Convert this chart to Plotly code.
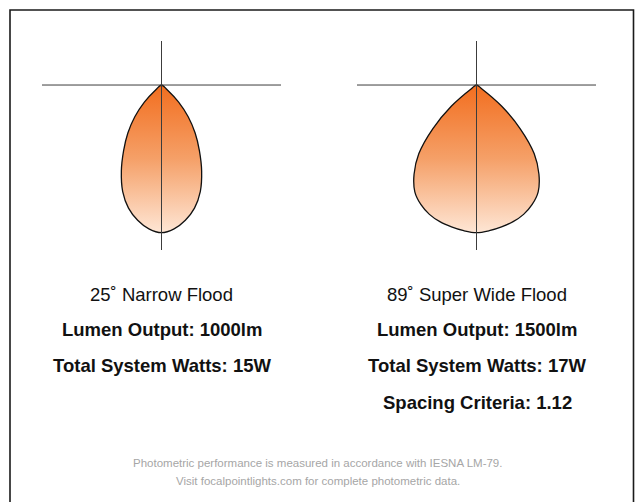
import numpy as np
import plotly.graph_objects as go

# ---- data (relative intensity, % of peak, vs. angle from nadir in degrees) ----
angles_narrow = [0, 5, 10, 15, 20, 25, 30, 35, 40, 45, 50, 55]
intensity_narrow = [100, 97.8, 93.0, 86.3, 76.8, 64.3, 51.3, 39.7, 28.1, 16.4, 5.0, 0]

angles_wide = [0, 5, 10, 15, 20, 25, 30, 35, 40, 45, 50, 55, 60]
intensity_wide = [100, 99.0, 97.5, 95.8, 93.2, 89.2, 83.5, 73.7, 60.8, 41.9, 22.1, 4.0, 0]

titles = ["25˚ Narrow Flood", "89˚ Super Wide Flood"]
lumen_lines = ["Lumen Output: 1000lm", "Lumen Output: 1500lm"]
watt_lines = ["Total System Watts: 15W", "Total System Watts: 17W"]
spacing_line = "Spacing Criteria: 1.12"
footer_lines = ["Photometric performance is measured in accordance with IESNA LM-79.",
                "Visit focalpointlights.com for complete photometric data."]

W, H = 637, 502


def outline(angles, values):
    a = np.array(angles, dtype=float)
    v = np.array(values, dtype=float)
    # mirror: from +max angle down to -max angle
    ang = np.concatenate([a[::-1], -a[1:]])
    r = np.concatenate([v[::-1], v[1:]])
    t = np.radians(ang)
    return r * np.sin(t), -r * np.cos(t)


fig = go.Figure()

fill_scale = [[0, "#FEE6D5"], [0.5, "#F5A068"], [1, "#F26E1F"]]

for i, (ang, val) in enumerate([(angles_narrow, intensity_narrow), (angles_wide, intensity_wide)]):
    x, y = outline(ang, val)
    ax = "" if i == 0 else "2"
    fig.add_trace(go.Scatter(
        x=x, y=y, mode="lines", fill="toself",
        line=dict(color="#111111", width=1.3, shape="spline", smoothing=1),
        fillgradient=dict(type="vertical", colorscale=fill_scale),
        xaxis="x" + ax, yaxis="y" + ax, hoverinfo="skip", showlegend=False,
    ))

def px_x(p):
    return p / W

def px_y(p):
    return 1 - p / H

xr = [-80.9, 80.9]
yr = [-111.7, 29.8]
ydom = [px_y(250), px_y(41)]
axis_common = dict(visible=False, fixedrange=True, showgrid=False, zeroline=False)
fig.update_layout(
    xaxis=dict(domain=[px_x(42), px_x(281)], range=xr, **axis_common),
    yaxis=dict(domain=ydom, range=yr, **axis_common),
    xaxis2=dict(domain=[px_x(357), px_x(596)], range=xr, anchor="y2", **axis_common),
    yaxis2=dict(domain=ydom, range=yr, anchor="x2", **axis_common),
)

shapes = []
for ax in ["", "2"]:
    shapes.append(dict(type="line", xref="x" + ax, yref=("y" + ax) + " domain",
                       x0=0, x1=0, y0=0, y1=1, line=dict(color="#3c3c3c", width=1), layer="above"))
    shapes.append(dict(type="line", xref=("x" + ax) + " domain", yref="y" + ax,
                       x0=0, x1=1, y0=0, y1=0, line=dict(color="#3c3c3c", width=1), layer="above"))
# frame
shapes.append(dict(type="rect", xref="paper", yref="paper",
                   x0=px_x(10), x1=px_x(633.5), y0=px_y(10), y1=-0.05,
                   line=dict(color="#1a1a1a", width=1.6), fillcolor="rgba(0,0,0,0)"))

font_family = "Liberation Sans, Arial, Helvetica, sans-serif"
ann = []
centers = [161.5, 476.5]
for i in range(2):
    ann.append(dict(text=titles[i], x=px_x(centers[i]), y=px_y(294.5),
                    font=dict(size=18.5, color="#111111", family=font_family)))
    ann.append(dict(text="<b>" + lumen_lines[i] + "</b>", x=px_x(centers[i]), y=px_y(329),
                    font=dict(size=18.5, color="#111111", family=font_family)))
    ann.append(dict(text="<b>" + watt_lines[i] + "</b>", x=px_x(centers[i]), y=px_y(365.5),
                    font=dict(size=18.5, color="#111111", family=font_family)))
ann.append(dict(text="<b>" + spacing_line + "</b>", x=px_x(477.5), y=px_y(402),
                font=dict(size=18.5, color="#111111", family=font_family)))
ann.append(dict(text=footer_lines[0], x=px_x(317.5), y=px_y(463),
                font=dict(size=11.5, color="#a6a6a6", family=font_family)))
ann.append(dict(text=footer_lines[1], x=px_x(318), y=px_y(481),
                font=dict(size=11.5, color="#a6a6a6", family=font_family)))
for a in ann:
    a.update(xref="paper", yref="paper", showarrow=False, xanchor="center", yanchor="middle")

fig.update_layout(
    width=W, height=H,
    margin=dict(l=0, r=0, t=0, b=0),
    paper_bgcolor="white", plot_bgcolor="white",
    shapes=shapes, annotations=ann, showlegend=False,
)

fig.write_html("out.html", config={"displayModeBar": False},
               post_script="document.body.style.margin='0px';document.body.style.overflow='hidden';")
